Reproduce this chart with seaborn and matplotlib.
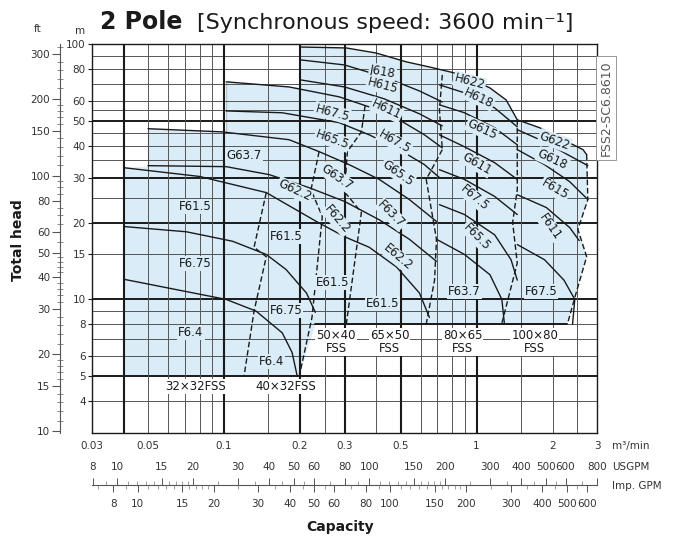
import matplotlib
matplotlib.use('Agg')
import matplotlib.pyplot as plt
import seaborn as sns

# ---------------- data (Q in m3/min, H in m) ----------------
# shaded selection area (union of all pump sizes)
env_q = [0.04, 0.04, 0.05, 0.05, 0.102, 0.102, 0.181, 0.202, 0.202, 0.305, 0.40, 0.528, 0.651,
         0.88, 1.13, 1.31, 1.45, 1.78, 2.13, 2.64, 2.73, 2.76, 2.52, 2.73, 2.50, 2.29, 0.23, 0.1985]
env_h = [5.0, 32.8, 33.1, 46.6, 45.3, 71.1, 67.9, 67.3, 97.3, 96.5, 92.2, 85.1, 81.3,
         75.7, 67.3, 60.4, 50.5, 47.0, 42.9, 38.6, 36.9, 24.6, 18.8, 14.7, 10.9, 8.0, 8.0, 5.0]

# solid motor curves
f64_q = [0.04, 0.102, 0.134, 0.17, 0.186, 0.195]
f64_h = [12.0, 10.0, 9.0, 7.4, 6.2, 5.0]
f675_q = [0.04, 0.071, 0.108, 0.147, 0.176, 0.212, 0.23]
f675_h = [19.3, 18.4, 16.9, 15.0, 13.1, 10.6, 8.9]
f615_q = [0.04, 0.08, 0.147, 0.232, 0.30, 0.376, 0.482, 0.594, 0.651]
f615_h = [32.8, 30.3, 26.2, 20.2, 17.6, 16.0, 13.4, 10.6, 8.5]
g622_q = [0.05, 0.102, 0.151, 0.217, 0.30, 0.412, 0.542, 0.694]
g622_h = [33.4, 33.1, 30.8, 27.4, 24.2, 20.5, 17.2, 14.1]
g637_q = [0.05, 0.098, 0.181, 0.238, 0.313, 0.412, 0.542, 0.694]
g637_h = [46.6, 45.3, 42.2, 37.9, 33.7, 29.5, 24.6, 20.2]
h655_q = [0.102, 0.17, 0.286, 0.376, 0.494, 0.622, 0.713]
h655_h = [54.7, 53.8, 49.2, 44.1, 38.6, 33.7, 30.0]
h675_q = [0.102, 0.181, 0.286, 0.376, 0.494, 0.622, 0.732]
h675_h = [71.1, 67.9, 62.1, 56.7, 50.5, 44.1, 39.2]
h611_q = [0.202, 0.30, 0.431, 0.594, 0.732]
h611_h = [72.3, 67.9, 61.0, 53.3, 47.8]
h6115_q = [0.202, 0.30, 0.431, 0.594, 0.732]
h6115_h = [86.6, 82.8, 74.3, 65.5, 59.3]
top_q = [0.202, 0.305, 0.40, 0.528, 0.651, 0.88, 1.13, 1.31, 1.45, 1.78, 2.13, 2.64, 2.73]
top_h = [97.3, 96.5, 92.2, 85.1, 81.3, 75.7, 67.3, 60.4, 50.5, 47.0, 42.9, 38.6, 36.9]
h618_q = [0.713, 0.896, 1.18, 1.45]
h618_h = [69.2, 64.4, 56.2, 47.4]
g615_q = [0.713, 0.896, 1.18, 1.45]
g615_h = [57.8, 53.8, 47.0, 40.3]
g611_q = [0.713, 0.896, 1.18, 1.45]
g611_h = [44.1, 39.6, 34.3, 29.5]
f675b_q = [0.713, 0.896, 1.18, 1.45]
f675b_h = [32.2, 29.5, 25.3, 21.5]
f655_q = [0.713, 0.896, 1.18, 1.37, 1.45]
f655_h = [23.5, 21.5, 17.9, 14.3, 11.9]
f637_q = [0.694, 0.896, 1.13, 1.26, 1.29]
f637_h = [17.2, 15.0, 12.5, 10.0, 8.0]
g618_q = [1.45, 1.86, 2.34, 2.76]
g618_h = [46.2, 41.4, 36.5, 33.4]
f6115_q = [1.45, 1.86, 2.34, 2.76]
f6115_h = [38.6, 33.7, 28.9, 24.6]
f611_q = [1.45, 1.89, 2.34, 2.55]
f611_h = [25.7, 22.9, 19.1, 17.0]
f675c_q = [1.45, 1.86, 2.22, 2.45, 2.40]
f675c_h = [16.4, 14.3, 11.9, 10.0, 8.0]

# dashed pump-size boundaries
d0_q = [0.147, 0.1315, 0.147, 0.1315, 0.12]
d0_h = [26.2, 16.0, 14.7, 9.0, 5.0]
d1_q = [0.238, 0.221, 0.245, 0.223, 0.1985]
d1_h = [37.9, 26.9, 21.1, 8.5, 5.0]
d2_q = [0.362, 0.35, 0.308, 0.30, 0.35, 0.305]
d2_h = [57.3, 45.3, 37.9, 26.4, 21.9, 8.0]
d3_q = [0.732, 0.713, 0.732, 0.632, 0.694, 0.682, 0.632]
d3_h = [75.7, 55.2, 38.6, 29.5, 17.2, 11.9, 8.0]
d4_q = [1.45, 1.45, 1.39, 1.45, 1.257]
d4_h = [50.5, 26.9, 20.0, 13.9, 8.0]
d5_q = [2.73, 2.76, 2.52, 2.73, 2.50, 2.29]
d5_h = [36.9, 24.6, 18.8, 14.7, 10.9, 8.0]

# motor labels
lab_txt = ['F61.5', 'F6.75', 'F6.4',
           'G63.7', 'G62.2', 'F61.5', 'F6.75', 'F6.4',
           'H67.5', 'H65.5', 'G63.7', 'F62.2', 'E61.5',
           'J618', 'H615', 'H611', 'H67.5', 'G65.5', 'F63.7', 'E62.2', 'E61.5',
           'H622', 'H618', 'G615', 'G611', 'F67.5', 'F65.5', 'F63.7',
           'G622', 'G618', 'F615', 'F611', 'F67.5']
lab_q = [0.0767, 0.0767, 0.074,
         0.12, 0.19, 0.176, 0.176, 0.154,
         0.268, 0.268, 0.28, 0.28, 0.268,
         0.424, 0.424, 0.439, 0.473, 0.487, 0.459, 0.487, 0.424,
         0.938, 1.02, 1.05, 1.0, 0.98, 1.0, 0.896,
         2.04, 2.0, 2.04, 1.95, 1.8]
lab_h = [23.1, 13.8, 7.4,
         36.5, 26.7, 17.6, 9.06, 5.73,
         53.8, 42.2, 30.0, 20.5, 11.65,
         77.7, 68.5, 55.2, 41.4, 31.3, 21.5, 14.6, 9.65,
         71.1, 61.5, 46.2, 34.0, 25.0, 17.6, 10.7,
         41.8, 35.2, 26.9, 19.3, 10.7]
lab_rot = [0, 0, 0,
           0, -25, 0, 0, 0,
           -15, -20, -35, -50, 0,
           -10, -15, -25, -30, -35, -45, -40, 0,
           -15, -25, -25, -30, -40, -45, 0,
           -20, -25, -30, -55, 0]

# pump size labels
size_txt = ['32×32FSS', '40×32FSS', '50×40\nFSS', '65×50\nFSS', '80×65\nFSS', '100×80\nFSS']
size_q = [0.0774, 0.176, 0.278, 0.452, 0.88, 1.70]
size_h = [4.57, 4.57, 6.79, 6.79, 6.79, 6.79]

# axes ticks
q_ticks = [0.03, 0.05, 0.1, 0.2, 0.3, 0.5, 1, 2, 3]
q_ticklabels = ['0.03', '0.05', '0.1', '0.2', '0.3', '0.5', '1', '2', '3']
h_ticks = [4, 5, 6, 8, 10, 15, 20, 30, 40, 50, 60, 80, 100]
ft_ticks = [10, 15, 20, 30, 40, 50, 60, 80, 100, 150, 200, 300]
ft_minor = [11, 12, 13, 14, 16, 17, 18, 19, 22, 24, 26, 28, 32, 34, 36, 38, 42, 44, 46, 48,
            55, 65, 70, 75, 85, 90, 95, 110, 120, 130, 140, 160, 170, 180, 190, 220, 240, 260, 280, 320]
us_ticks = [8, 10, 15, 20, 30, 40, 50, 60, 80, 100, 150, 200, 300, 400, 500, 600, 800]
us_minor = [9, 11, 12, 13, 14, 16, 17, 18, 19, 25, 35, 45, 55, 70, 90, 110, 120, 130, 140,
            160, 170, 180, 190, 250, 350, 450, 550, 700]
imp_ticks = [8, 10, 15, 20, 30, 40, 50, 60, 80, 100, 150, 200, 300, 400, 500, 600]
imp_minor = [7, 9, 11, 12, 13, 14, 16, 17, 18, 19, 25, 35, 45, 55, 70, 90, 110, 120, 130, 140,
             160, 170, 180, 190, 250, 350, 450, 550]

# grid
h_grid_bold = [5, 10, 20, 30, 50, 100]
h_grid_thin = [4, 6, 7, 8, 9, 15, 25, 35, 40, 45, 55, 60, 70, 80, 90]
q_grid_bold = [0.04, 0.1, 0.2, 0.3, 0.5, 1]
q_grid_thin = [0.05, 0.06, 0.07, 0.08, 0.09, 0.15, 0.25, 0.4, 0.6, 0.7, 0.8, 0.9, 1.5, 2, 2.5]

M_TO_FT = 3.28084
M3MIN_TO_USGPM = 264.17
M3MIN_TO_IMPGPM = 219.97

# ---------------- drawing ----------------
sns.set_style('white')
plt.rcParams['font.family'] = ['DejaVu Sans']

SHADE = '#d9ecf7'
INK = '#1a1a1a'
TXT = '#333333'

fig = plt.figure(figsize=(6.75, 5.4), dpi=100)
left, bottom, width, height = 92 / 675, 1 - 433 / 540, 505 / 675, 389 / 540
ax = fig.add_axes([left, bottom, width, height])
ax.set_xscale('log')
ax.set_yscale('log')
ax.set_xlim(0.03, 3)
ax.set_ylim(3, 100)

ax.fill(env_q, env_h, color=SHADE, lw=0, zorder=0)

for v in h_grid_thin:
    ax.axhline(v, color='#555555', lw=0.7, zorder=1)
for v in h_grid_bold:
    ax.axhline(v, color=INK, lw=1.4, zorder=1)
for v in q_grid_thin:
    ax.axvline(v, color='#555555', lw=0.7, zorder=1)
for v in q_grid_bold:
    ax.axvline(v, color=INK, lw=1.5, zorder=1)

solid = [(f64_q, f64_h), (f675_q, f675_h), (f615_q, f615_h), (g622_q, g622_h),
         (g637_q, g637_h), (h655_q, h655_h), (h675_q, h675_h), (h611_q, h611_h),
         (h6115_q, h6115_h), (top_q, top_h), (h618_q, h618_h), (g615_q, g615_h),
         (g611_q, g611_h), (f675b_q, f675b_h), (f655_q, f655_h), (f637_q, f637_h),
         (g618_q, g618_h), (f6115_q, f6115_h), (f611_q, f611_h), (f675c_q, f675c_h)]
for q, h in solid:
    sns.lineplot(x=q, y=h, sort=False, estimator=None, color=INK, lw=1.0, ax=ax, zorder=3)

dashed = [(d0_q, d0_h), (d1_q, d1_h), (d2_q, d2_h), (d3_q, d3_h), (d4_q, d4_h), (d5_q, d5_h)]
for q, h in dashed:
    sns.lineplot(x=q, y=h, sort=False, estimator=None, color=INK, lw=1.0,
                 linestyle=(0, (4, 2)), ax=ax, zorder=3)

# step edges of the shaded area
sns.lineplot(x=[0.05, 0.05], y=[33.1, 46.6], color=INK, lw=1.0, ax=ax, zorder=3)
sns.lineplot(x=[0.102, 0.102], y=[45.3, 71.1], color=INK, lw=1.0, ax=ax, zorder=3)
sns.lineplot(x=[0.23, 2.29], y=[8.0, 8.0], color=INK, lw=1.4, ax=ax, zorder=3)

for t, q, h, r in zip(lab_txt, lab_q, lab_h, lab_rot):
    ax.text(q, h, t, rotation=r, ha='center', va='center', fontsize=8.5, color=INK,
            rotation_mode='anchor', zorder=5,
            bbox=dict(boxstyle='square,pad=0.08', fc=SHADE, ec='none'))

for t, q, h in zip(size_txt, size_q, size_h):
    ax.text(q, h, t, ha='center', va='center', fontsize=8.5, color=INK, linespacing=1.0,
            zorder=5, bbox=dict(boxstyle='square,pad=0.08', fc='white', ec='none'))

for s in ax.spines.values():
    s.set_color(INK)
    s.set_linewidth(1.0)
ax.set_xticks(q_ticks)
ax.set_xticklabels(q_ticklabels)
ax.set_xticks([], minor=True)
ax.set_yticks(h_ticks)
ax.set_yticklabels([str(v) for v in h_ticks])
ax.set_yticks([], minor=True)
ax.tick_params(axis='x', length=0, pad=6, labelsize=7.5, labelcolor=TXT)
ax.tick_params(axis='y', left=True, length=3, width=0.8, pad=1.5, labelsize=7.5,
               labelcolor=TXT, color=INK)
ax.set_xlabel('')
ax.set_ylabel('')

# feet scale
ax_ft = fig.add_axes([60 / 675, bottom, 0.001, height])
ax_ft.set_yscale('log')
ax_ft.set_ylim(3 * M_TO_FT, 100 * M_TO_FT)
ax_ft.set_xticks([])
for k in ['top', 'right', 'bottom']:
    ax_ft.spines[k].set_visible(False)
ax_ft.spines['left'].set_color('#555555')
ax_ft.spines['left'].set_linewidth(0.8)
ax_ft.set_yticks(ft_ticks)
ax_ft.set_yticklabels([str(v) for v in ft_ticks])
ax_ft.set_yticks(ft_minor, minor=True)
ax_ft.set_yticklabels([], minor=True)
ax_ft.tick_params(axis='y', which='major', left=True, length=6, width=0.8, pad=1, labelsize=7.5,
                  labelcolor=TXT, color='#555555')
ax_ft.tick_params(axis='y', which='minor', left=True, length=4, width=0.6, direction='inout',
                  color='#777777')
ax_ft.patch.set_alpha(0)

# GPM scales
gy = 1 - 485 / 540
ax_us = fig.add_axes([left, gy, width, 0.0005])
ax_us.set_xscale('log')
ax_us.set_xlim(0.03 * M3MIN_TO_USGPM, 3 * M3MIN_TO_USGPM)
ax_us.set_yticks([])
for k in ['left', 'right', 'bottom']:
    ax_us.spines[k].set_visible(False)
ax_us.spines['top'].set_color('#555555')
ax_us.spines['top'].set_linewidth(0.8)
ax_us.xaxis.set_ticks_position('top')
ax_us.set_xticks(us_ticks)
ax_us.set_xticklabels([str(v) for v in us_ticks])
ax_us.set_xticks(us_minor, minor=True)
ax_us.set_xticklabels([], minor=True)
ax_us.tick_params(axis='x', which='major', top=True, length=5, width=0.7, pad=4, labelsize=7.5,
                  labelcolor=TXT, color='#555555')
ax_us.tick_params(axis='x', which='minor', top=True, length=3, width=0.5, color='#777777')
ax_us.patch.set_alpha(0)

ax_imp = fig.add_axes([left, gy, width, 0.0005])
ax_imp.set_xscale('log')
ax_imp.set_xlim(0.03 * M3MIN_TO_IMPGPM, 3 * M3MIN_TO_IMPGPM)
ax_imp.set_yticks([])
for k in ['left', 'right', 'top', 'bottom']:
    ax_imp.spines[k].set_visible(False)
ax_imp.set_xticks(imp_ticks)
ax_imp.set_xticklabels([str(v) for v in imp_ticks])
ax_imp.set_xticks(imp_minor, minor=True)
ax_imp.set_xticklabels([], minor=True)
ax_imp.tick_params(axis='x', which='major', bottom=True, length=5, width=0.7, pad=5,
                   labelsize=7.5, labelcolor=TXT, color='#555555')
ax_imp.tick_params(axis='x', which='minor', bottom=True, length=3, width=0.5, color='#777777')
ax_imp.patch.set_alpha(0)

# texts around the chart
fig.text(100 / 675, 1 - 22 / 540, '2 Pole', fontsize=17, fontweight='bold', color=INK,
         ha='left', va='center')
fig.text(197 / 675, 1 - 23 / 540, '[Synchronous speed: 3600 min⁻¹]', fontsize=16,
         color=INK, ha='left', va='center')
fig.text(38 / 675, 1 - 29 / 540, 'ft', fontsize=7.5, color=TXT, ha='center', va='center')
fig.text(80 / 675, 1 - 31 / 540, 'm', fontsize=7.5, color=TXT, ha='center', va='center')
fig.text(18 / 675, 1 - 240 / 540, 'Total head', rotation=90, fontsize=10, fontweight='bold',
         color=INK, ha='center', va='center')
fig.text(340 / 675, 1 - 527 / 540, 'Capacity', fontsize=10, fontweight='bold', color=INK,
         ha='center', va='center')
fig.text(612 / 675, 1 - 446 / 540, 'm³/min', fontsize=7.5, color=TXT, ha='left', va='center')
fig.text(612 / 675, 1 - 467 / 540, 'USGPM', fontsize=7.5, color=TXT, ha='left', va='center')
fig.text(612 / 675, 1 - 486 / 540, 'Imp. GPM', fontsize=7.5, color=TXT, ha='left', va='center')
fig.text(606 / 675, 1 - 108 / 540, 'FSS2-SC6.8610', rotation=90, fontsize=9, color='#555555',
         ha='center', va='center',
         bbox=dict(boxstyle='square,pad=0.3', fc='white', ec='#888888', lw=0.6))

fig.savefig('out.png', dpi=100, facecolor='white')
